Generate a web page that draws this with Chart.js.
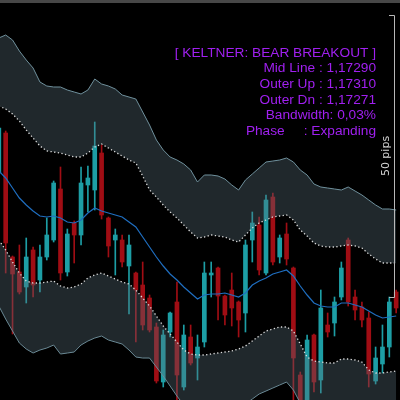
<!DOCTYPE html>
<html><head><meta charset="utf-8">
<script src="https://cdn.jsdelivr.net/npm/chart.js@4/dist/chart.umd.min.js"></script>
<style>html,body{margin:0;padding:0;background:#000;overflow:hidden}#wrap{width:400px;height:400px}</style>
</head><body><div id="wrap"><canvas id="c" width="400" height="400"></canvas></div>
<script>
// candle slots (bar index), first one partly cut at the left edge
const candleIndex = Array.from({length: 59}, (_, i) => i - 1);
// OHLC in chart units (0 = bottom of view, 400 = top of view)
const openV  = [227,267,143,128,113,150,120,143,160,211,128,177,165,215,210,247,182,160,160,134,127,115,102,73,18,68,98,13,63,42,58,125,132,104,110,98,87,160,175,127,203,143,166,132,25,0,65,20,75,77,103,160,103,93,82,19,36,53,108];
const highV  = [275,269,144,155,162,153,155,182,219,233,171,179,233,234,278,255,183,171,165,165,128,138,105,77,70,88,118,75,75,65,138,138,133,105,127,99,160,188,183,205,207,165,177,133,28,65,66,110,87,103,138,162,110,98,88,53,75,103,110];
const lowV   = [224,127,66,106,97,103,108,140,158,120,124,137,155,188,190,181,143,125,133,86,58,70,68,17,13,63,-2,10,35,20,53,103,80,75,74,63,68,138,125,125,135,137,135,0,-2,-2,8,7,63,64,100,94,80,73,13,16,27,43,87];
const closeV = [272,157,126,108,143,115,143,165,217,127,166,165,217,222,254,185,154,165,138,155,110,75,70,19,65,87,25,65,37,53,127,127,104,85,92,80,155,177,130,200,138,162,141,42,0,60,18,92,68,98,132,98,90,80,26,42,53,98,92];
// Keltner lines
const midLine    = [229,222,212,202,195,189,184,183,184,182,178,177,180,187,192,189,187,185,183,178,173,163,153,143,134,126,120,113,107,101,105,106,106,107,105,103,107,115,119,122,126,128,130,124,114,105,97,94,93,93,97,97,95,93,89,85,82,83,84];
const upperOuter = [362,365,360,349,340,332,318,314,313,313,310,308,306,310,321,316,314,311,305,303,301,288,275,260,250,243,240,236,230,218,225,225,224,221,215,210,220,226,232,238,239,240,242,238,230,225,216,213,212,211,210,213,209,205,200,195,191,191,190];
const upperInner = [294,291,286,279,270,262,254,249,248,247,245,243,243,247,253,256,252,248,244,240,237,224,210,203,195,188,182,175,168,162,163,165,164,163,160,158,165,172,177,180,183,184,185,180,170,164,157,154,153,153,154,155,154,152,146,141,137,137,137];
const lowerInner = [160,150,138,127,119,117,117,118,119,114,112,113,116,122,125,127,124,121,118,116,110,102,94,84,74,66,58,50,46,45,45,46,47,48,49,51,54,59,64,69,71,73,73,69,56,43,39,38,37,37,41,41,40,38,30,27,27,28,29];
const lowerOuter = [94,81,69,57,51,47,50,52,55,46,47,48,55,59,62,64,60,58,56,50,43,42,42,33,24,14,4,-5,-10,-13,-13,-12,-12,-11,-9,-7,-4,1,6,9,12,15,18,10,-3,-16,-21,-22,-23,-23,-19,-19,-20,-22,-30,-33,-33,-32,-31];
// texts
const infoLines = ['[ KELTNER: BEAR BREAKOUT ]','Mid Line : 1,17290','Outer Up : 1,17310','Outer Dn : 1,17271','Bandwidth: 0,03%','Phase     : Expanding'];
const scaleLabel = '50 pips';

const TEAL = '#1d9ea5', RED = '#a00d14';
const candleColors = candleIndex.map((k, i) => closeV[i] >= openV[i] ? TEAL : RED);
const pts = arr => candleIndex.map((k, i) => ({x: k, y: arr[i]}));
const bandFill = 'rgba(90,112,122,0.36)';

const decor = {
  id: 'decor',
  beforeDraw(chart) {
    const c = chart.ctx;
    c.save(); c.fillStyle = '#000'; c.fillRect(0, 0, chart.width, chart.height); c.restore();
  },
  afterDraw(chart) {
    const c = chart.ctx;
    c.save();
    // top strip
    c.fillStyle = '#474747';
    c.fillRect(0, 0, chart.width, 3);
    // info text
    c.fillStyle = '#a020f0';
    c.font = '13.7px "Liberation Sans", Arial, sans-serif';
    c.textAlign = 'right';
    c.textBaseline = 'middle';
    infoLines.forEach((t, i) => c.fillText(t, 376, 53 + i * 15.6));
    // pip scale bar
    c.strokeStyle = '#b8b8b8';
    c.lineWidth = 1;
    c.beginPath();
    c.moveTo(389, 15.5); c.lineTo(394.5, 15.5); c.lineTo(394.5, 297.5); c.lineTo(389, 297.5);
    c.stroke();
    c.translate(386, 156);
    c.rotate(-Math.PI / 2);
    c.fillStyle = '#d6d6d6';
    c.font = '11px "DejaVu Sans", sans-serif';
    c.textAlign = 'center';
    c.textBaseline = 'middle';
    c.fillText(scaleLabel, 0, 0);
    c.restore();
  }
};

new Chart(document.getElementById('c'), {
  data: {
    datasets: [
      {type: 'bar', data: candleIndex.map((k, i) => ({x: k, y: [lowV[i], highV[i]]})), backgroundColor: candleColors, barThickness: 1, grouped: false, order: 10},
      {type: 'bar', data: candleIndex.map((k, i) => ({x: k, y: [openV[i], closeV[i]]})), backgroundColor: candleColors, barThickness: 4, grouped: false, order: 9},
      {type: 'line', data: pts(upperOuter), borderColor: '#6f909c', borderWidth: 1, pointRadius: 0, tension: 0, fill: '+1', backgroundColor: bandFill, order: 5},
      {type: 'line', data: pts(upperInner), borderColor: '#dcdcdc', borderWidth: 1.3, borderDash: [1.3, 2.4], pointRadius: 0, tension: 0, fill: false, order: 2},
      {type: 'line', data: pts(lowerInner), borderColor: '#dcdcdc', borderWidth: 1.3, borderDash: [1.3, 2.4], pointRadius: 0, tension: 0, fill: '+1', backgroundColor: bandFill, order: 3},
      {type: 'line', data: pts(lowerOuter), borderColor: '#6f909c', borderWidth: 1, pointRadius: 0, tension: 0, fill: false, order: 4},
      {type: 'line', data: pts(midLine), borderColor: '#1f6ec0', borderWidth: 1.2, pointRadius: 0, tension: 0, fill: false, order: 1}
    ]
  },
  options: {
    responsive: false,
    animation: false,
    layout: {padding: 0},
    scales: {
      x: {type: 'linear', min: -0.83, max: 57.56, offset: false, display: false},
      y: {type: 'linear', min: 0, max: 400, display: false}
    },
    plugins: {
      legend: {display: false},
      tooltip: {enabled: false},
      filler: {drawTime: 'beforeDatasetDraw'}
    }
  },
  plugins: [decor]
});
</script>
</body></html>
